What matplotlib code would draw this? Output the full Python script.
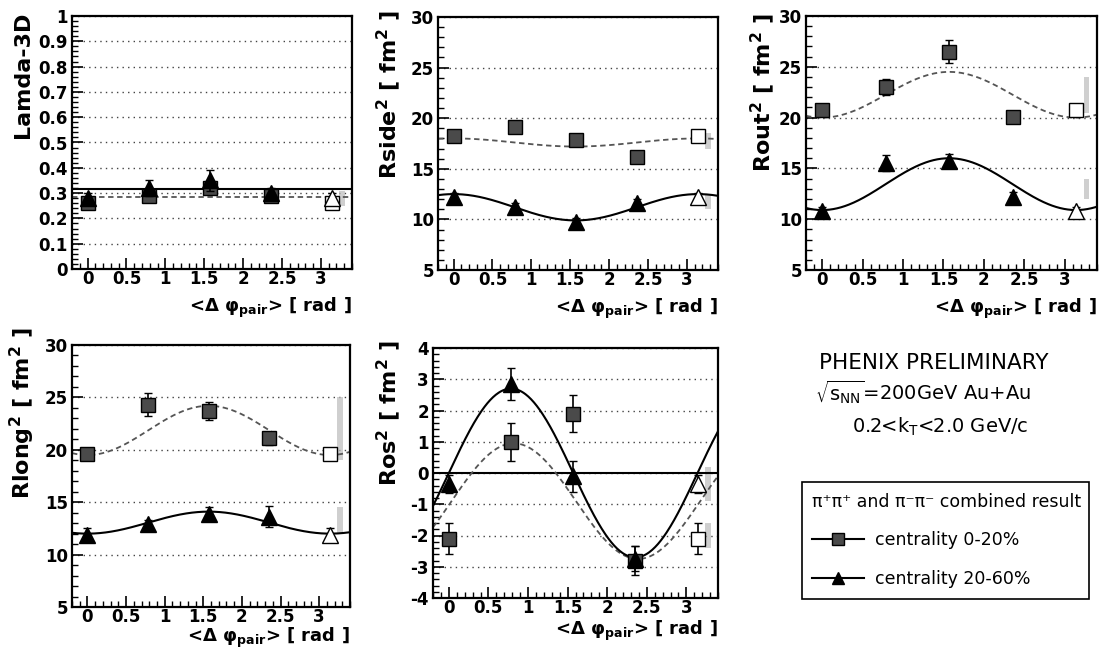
import numpy as np
import matplotlib.pyplot as plt
from matplotlib.ticker import MultipleLocator, FuncFormatter
from matplotlib.lines import Line2D

plt.rcParams['font.family'] = ['DejaVu Sans']
plt.rcParams['mathtext.fontset'] = 'dejavusans'
plt.rcParams['mathtext.default'] = 'bf'

W, H = 1101, 649

# pair angle w.r.t. reaction plane; the last point is the phi=0 point reflected to pi
phi = np.array([0, np.pi / 4, np.pi / 2, 3 * np.pi / 4, np.pi])

# centrality 0-20% (squares) and 20-60% (triangles)
lam_cen = [0.26, 0.29, 0.32, 0.29, 0.26]
lam_cen_err = [0.02, 0.02, 0.02, 0.02, 0.02]
lam_mid = [0.28, 0.32, 0.35, 0.30, 0.28]
lam_mid_err = [0.02, 0.03, 0.04, 0.02, 0.02]

rside_cen = [18.2, 19.1, 17.8, 16.2, 18.2]
rside_cen_err = [0.4, 0.6, 0.5, 0.4, 0.4]
rside_mid = [12.2, 11.2, 9.7, 11.6, 12.2]
rside_mid_err = [0.4, 0.4, 0.4, 0.4, 0.4]

rout_cen = [20.7, 23.0, 26.5, 20.1, 20.7]
rout_cen_err = [0.5, 0.8, 1.1, 0.4, 0.5]
rout_mid = [10.8, 15.5, 15.7, 12.2, 10.8]
rout_mid_err = [0.4, 0.8, 0.7, 0.5, 0.4]

rlong_cen = [19.6, 24.3, 23.7, 21.1, 19.6]
rlong_cen_err = [0.5, 1.1, 0.9, 0.6, 0.5]
rlong_mid = [11.9, 12.9, 13.9, 13.6, 11.9]
rlong_mid_err = [0.6, 0.4, 0.6, 1.0, 0.6]

ros_cen = [-2.1, 1.0, 1.9, -2.8, -2.1]
ros_cen_err = [0.5, 0.6, 0.6, 0.45, 0.5]
ros_mid = [-0.35, 2.85, -0.1, -2.75, -0.35]
ros_mid_err = [0.3, 0.5, 0.5, 0.4, 0.3]

# fit parameters: const + amp * cos(2 (phi - phi0))
lam_fit = [(0.285, 0.0, 0.0), (0.315, 0.0, 0.0)]
rside_fit = [(17.6, 0.4, 0.0), (11.2, 1.3, 0.0)]
rout_fit = [(22.25, -2.25, 0.0), (13.45, -2.55, 0.0)]
rlong_fit = [(21.85, -2.35, 0.0), (13.05, -1.05, 0.0)]
ros_fit = [(-0.9, 1.85, 0.82), (0.0, 2.7, np.pi / 4)]

# systematic error bands (low, high) at the reflected point
lam_sys = [(0.25, 0.28), (0.28, 0.31)]
rside_sys = [(17.0, 18.5), (11.0, 12.5)]
rout_sys = [(20.5, 24.0), (12.0, 14.0)]
rlong_sys = [(19.0, 25.0), (12.0, 14.5)]
ros_sys = [(-2.4, -1.6), (-0.9, 0.2)]

panels = [
    # box in pixels (left, top, right, bottom), ylabel, ylim, ticks, ylabel anchor, xlabel gap
    dict(box=(72, 16, 352, 269), label='Lamda-3D', ylim=(0, 1), major=0.1, minor=0.02,
         lab=(33, 12), gap=27, cen=(lam_cen, lam_cen_err), mid=(lam_mid, lam_mid_err),
         fit=lam_fit, sys=lam_sys),
    dict(box=(438, 17, 718, 270), label=r'Rside$^{2}$ [ fm$^{2}$ ]', ylim=(5, 30), major=5, minor=1,
         lab=(403, 10), gap=27, cen=(rside_cen, rside_cen_err), mid=(rside_mid, rside_mid_err),
         fit=rside_fit, sys=rside_sys),
    dict(box=(806, 16, 1097, 270), label=r'Rout$^{2}$ [ fm$^{2}$ ]', ylim=(5, 30), major=5, minor=1,
         lab=(777, 13), gap=27, cen=(rout_cen, rout_cen_err), mid=(rout_mid, rout_mid_err),
         fit=rout_fit, sys=rout_sys),
    dict(box=(72, 345, 350, 607), label=r'Rlong$^{2}$ [ fm$^{2}$ ]', ylim=(5, 30), major=5, minor=1,
         lab=(37, 327), gap=19, cen=(rlong_cen, rlong_cen_err), mid=(rlong_mid, rlong_mid_err),
         fit=rlong_fit, sys=rlong_sys),
    dict(box=(433, 348, 718, 598), label=r'Ros$^{2}$ [ fm$^{2}$ ]', ylim=(-4, 4), major=1, minor=0.2,
         lab=(403, 340), gap=21, cen=(ros_cen, ros_cen_err), mid=(ros_mid, ros_mid_err),
         fit=ros_fit, sys=ros_sys),
]

fig = plt.figure(figsize=(W / 100, H / 100), dpi=100)
fig.patch.set_facecolor('white')

xs = np.linspace(-0.2, 3.4, 300)
fmt = FuncFormatter(lambda v, p: '%g' % round(v, 3))

for p in panels:
    l, t, r, b = p['box']
    ax = fig.add_axes([l / W, 1 - b / H, (r - l) / W, (b - t) / H])
    ax.set_xlim(-0.2, 3.4)
    ax.set_ylim(*p['ylim'])
    ax.xaxis.set_major_locator(MultipleLocator(0.5))
    ax.xaxis.set_minor_locator(MultipleLocator(0.1))
    ax.yaxis.set_major_locator(MultipleLocator(p['major']))
    ax.yaxis.set_minor_locator(MultipleLocator(p['minor']))
    ax.xaxis.set_major_formatter(fmt)
    ax.yaxis.set_major_formatter(fmt)
    ax.tick_params(which='both', direction='in', top=False, right=False, labelsize=12)
    ax.tick_params(which='major', length=8, width=1.2)
    ax.tick_params(axis='x', which='major', pad=1)
    ax.tick_params(axis='y', which='major', pad=3)
    ax.tick_params(which='minor', length=4, width=1.0)
    for s in ax.spines.values():
        s.set_linewidth(1.6)
    ax.yaxis.grid(True, which='major', linestyle=(0, (1, 3)), color='#444444', linewidth=1.0)
    ax.set_axisbelow(True)

    if p['ylim'][0] < 0:
        ax.axhline(0, color='black', lw=1.5)

    # fit curves
    (c0, a0, f0), (c1, a1, f1) = p['fit']
    ax.plot(xs, c0 + a0 * np.cos(2 * (xs - f0)), color='#555555', lw=1.3, ls=(0, (3, 2)))
    ax.plot(xs, c1 + a1 * np.cos(2 * (xs - f1)), color='black', lw=1.5)

    # systematic bands
    for lo, hi in p['sys']:
        ax.bar(np.pi + 0.13, hi - lo, bottom=lo, width=0.07, color='#bbbbbb', alpha=0.7, lw=0)

    # data points
    vals, err = p['cen']
    ax.errorbar(phi[:4], vals[:4], yerr=err[:4], fmt='s', ms=10, mfc='#4a4a4a', mec='black',
                ecolor='black', elinewidth=1.2, capsize=3, zorder=5)
    ax.errorbar(phi[4:], vals[4:], yerr=err[4:], fmt='s', ms=10, mfc='white', mec='black',
                ecolor='black', elinewidth=1.2, capsize=3, zorder=5)
    vals, err = p['mid']
    ax.errorbar(phi[:4], vals[:4], yerr=err[:4], fmt='^', ms=11, mfc='black', mec='black',
                ecolor='black', elinewidth=1.2, capsize=3, zorder=6)
    ax.errorbar(phi[4:], vals[4:], yerr=err[4:], fmt='^', ms=11, mfc='white', mec='black',
                ecolor='black', elinewidth=1.2, capsize=3, zorder=6)

    for lbl in ax.get_xticklabels() + ax.get_yticklabels():
        lbl.set_fontweight('bold')

    # axis titles
    lx, ly = p['lab']
    ax.set_ylabel(p['label'], fontsize=16, fontweight='bold', loc='top')
    ax.yaxis.set_label_coords((lx - l) / (r - l), 1 - (ly - t) / (b - t))
    ax.set_xlabel(r'<Δ φ$_{pair}$> [ rad ]', fontsize=13, fontweight='bold', loc='right')
    ax.xaxis.set_label_coords(1.0, -p['gap'] / (b - t))

# run information
fig.text(934 / W, 1 - 363 / H, 'PHENIX PRELIMINARY', fontsize=15.5,
         ha='center', va='center')
fig.text(923 / W, 1 - 392 / H, r'$\mathrm{\sqrt{s_{NN}}}$=200GeV Au+Au', fontsize=14,
         ha='center', va='center')
fig.text(940 / W, 1 - 427 / H, r'0.2<k$_{\mathrm{T}}$<2.0 GeV/c', fontsize=14,
         ha='center', va='center')

handles = [
    Line2D([], [], color='black', lw=1.5, marker='s', ms=9, mfc='#4a4a4a', mec='black'),
    Line2D([], [], color='black', lw=1.5, marker='^', ms=9, mfc='black', mec='black'),
]
leg = fig.legend(handles, ['centrality 0-20%', 'centrality 20-60%'],
                 title='π⁺π⁺ and π⁻π⁻ combined result',
                 loc='upper left', bbox_to_anchor=(793 / W, 1 - 480 / H, 305 / W, 0.01),
                 mode='expand', fancybox=False, edgecolor='black', framealpha=1,
                 prop=dict(size=12.5), title_fontproperties=dict(size=12.5),
                 handlelength=3.0, labelspacing=1.2, borderpad=0.6, handletextpad=0.6)
leg._legend_box.align = 'left'
leg.get_frame().set_linewidth(1.2)

fig.savefig('out.png', dpi=100)
